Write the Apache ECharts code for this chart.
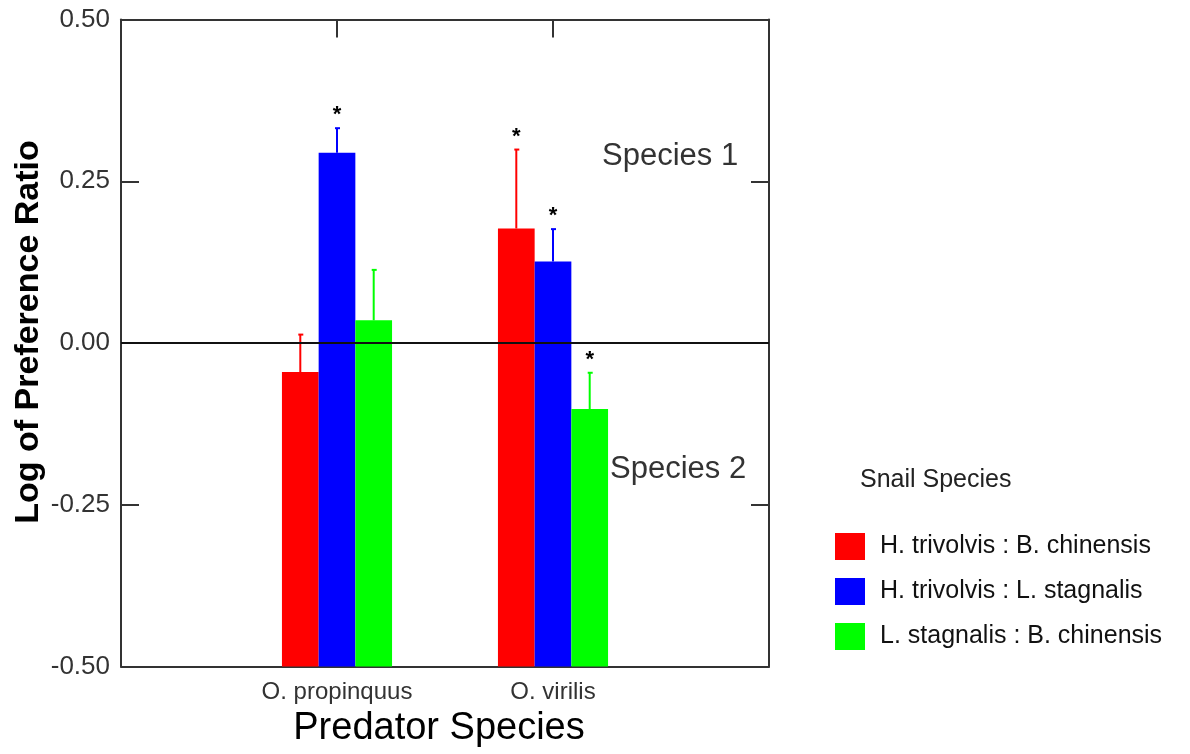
<!DOCTYPE html>
<html>
<head>
<meta charset="utf-8">
<script src="https://cdn.jsdelivr.net/npm/echarts@6/dist/echarts.min.js"></script>
<style>
html,body{margin:0;padding:0;background:#fff;}
#chart{width:1190px;height:754px;}
</style>
</head>
<body>
<div id="chart"></div>
<script>
// ---- data ----
var categories = ['', 'O. propinquus', 'O. virilis', ''];
var seriesNames = ['H. trivolvis : B. chinensis', 'H. trivolvis : L. stagnalis', 'L. stagnalis : B. chinensis'];
var seriesColors = ['#ff0000', '#0000ff', '#00ff00'];
// values for O. propinquus, O. virilis
var valuesHB = [-0.045, 0.177];
var valuesHL = [0.294, 0.126];
var valuesLB = [0.035, -0.102];
// upper end of the error bar
var errTopHB = [0.013, 0.299];
var errTopHL = [0.332, 0.176];
var errTopLB = [0.113, -0.046];
// significance marks (1 = asterisk)
var starsHB = [0, 1];
var starsHL = [1, 1];
var starsLB = [0, 1];
var yTicks = [-0.5, -0.25, 0, 0.25, 0.5];

var yMin = yTicks[0], yMax = yTicks[yTicks.length - 1];
var FONT = '"Liberation Sans", Arial, sans-serif';
var BAR_W = 36.7;

function buildData(vals, errs, stars) {
  return vals.map(function (v, i) { return [i + 1, v, errs[i], stars[i]]; });
}
var allData = [
  buildData(valuesHB, errTopHB, starsHB),
  buildData(valuesHL, errTopHL, starsHL),
  buildData(valuesLB, errTopLB, starsLB)
];

function makeRender(sIdx) {
  var offset = (sIdx - 1) * BAR_W;
  var color = seriesColors[sIdx];
  return function (params, api) {
    var ci = api.value(0), v = api.value(1), e = api.value(2), star = api.value(3);
    var top = api.coord([ci, v]);
    var base = api.coord([ci, yMin]);
    var eTop = api.coord([ci, e]);
    var cx = top[0] + offset;
    var children = [
      { type: 'rect', shape: { x: cx - BAR_W / 2, y: top[1], width: BAR_W, height: base[1] - top[1] },
        style: { fill: color } },
      { type: 'line', shape: { x1: cx, y1: top[1], x2: cx, y2: eTop[1] },
        style: { stroke: color, lineWidth: 2 } },
      { type: 'line', shape: { x1: cx - 2, y1: eTop[1], x2: cx + 3, y2: eTop[1] },
        style: { stroke: color, lineWidth: 2 } }
    ];
    if (star) {
      children.push({ type: 'text', x: cx, y: eTop[1] - 13,
        style: { text: '*', fill: '#000', font: 'bold 22px ' + FONT, align: 'center', verticalAlign: 'middle' } });
    }
    return { type: 'group', children: children };
  };
}

var series = seriesNames.map(function (name, s) {
  return {
    name: name,
    type: 'custom',
    xAxisIndex: 0, yAxisIndex: 0,
    itemStyle: { color: seriesColors[s] },
    renderItem: makeRender(s),
    data: allData[s],
    z: 2
  };
});
series.push({
  name: 'zero',
  type: 'line',
  data: [],
  z: 10,
  markLine: {
    silent: true,
    symbol: ['none', 'none'],
    label: { show: false },
    lineStyle: { color: '#111', width: 2, type: 'solid' },
    data: [{ yAxis: 0 }]
  }
});

var axisLineStyle = { color: '#333', width: 2 };
var option = {
  animation: false,
  grid: { left: 121, right: 421, top: 19.5, bottom: 87.5, containLabel: false, outerBoundsMode: 'none' },
  xAxis: [
    { type: 'category', data: categories, boundaryGap: false, position: 'bottom',
      axisLine: { onZero: false, lineStyle: axisLineStyle }, axisTick: { show: false },
      axisLabel: { color: '#333', fontFamily: FONT, fontSize: 24, margin: 14, interval: 0 },
      splitLine: { show: false } },
    { type: 'category', data: categories, boundaryGap: false, position: 'top',
      axisLine: { onZero: false, lineStyle: axisLineStyle },
      axisTick: { show: true, inside: true, length: 18, lineStyle: { color: '#333', width: 2 },
        interval: function (idx) { return idx === 1 || idx === 2; } },
      axisLabel: { show: false }, splitLine: { show: false } }
  ],
  yAxis: [
    { type: 'value', min: yMin, max: yMax, interval: 0.25, position: 'left',
      axisLine: { show: true, onZero: false, lineStyle: axisLineStyle },
      axisTick: { show: true, inside: true, length: 18, lineStyle: { color: '#333', width: 2 } },
      axisLabel: { color: '#333', fontFamily: FONT, fontSize: 26, margin: 11,
        formatter: function (v) { return v.toFixed(2); } },
      splitLine: { show: false } },
    { type: 'value', min: yMin, max: yMax, interval: 0.25, position: 'right',
      axisLine: { show: true, onZero: false, lineStyle: axisLineStyle },
      axisTick: { show: true, inside: true, length: 18, lineStyle: { color: '#333', width: 2 } },
      axisLabel: { show: false }, splitLine: { show: false } }
  ],
  legend: {
    data: seriesNames,
    orient: 'vertical',
    left: 835, top: 533, padding: 0,
    itemWidth: 30, itemHeight: 27, itemGap: 18,
    icon: 'rect',
    selectedMode: false,
    textStyle: { color: '#111', fontFamily: FONT, fontSize: 25, padding: [0, 0, 0, 10] }
  },
  graphic: [
    { type: 'text', x: 29, y: 332, rotation: Math.PI / 2,
      style: { text: 'Log of Preference Ratio', fill: '#000', font: 'bold 34px ' + FONT, align: 'center', verticalAlign: 'middle' } },
    { type: 'text', x: 439, y: 729,
      style: { text: 'Predator Species', fill: '#000', font: '38px ' + FONT, align: 'center', verticalAlign: 'middle' } },
    { type: 'text', x: 602, y: 156,
      style: { text: 'Species 1', fill: '#333', font: '31px ' + FONT, align: 'left', verticalAlign: 'middle' } },
    { type: 'text', x: 610, y: 469,
      style: { text: 'Species 2', fill: '#333', font: '31px ' + FONT, align: 'left', verticalAlign: 'middle' } },
    { type: 'text', x: 860, y: 480,
      style: { text: 'Snail Species', fill: '#222', font: '25px ' + FONT, align: 'left', verticalAlign: 'middle' } }
  ],
  series: series
};

var chart = echarts.init(document.getElementById('chart'), null, { renderer: 'canvas' });
chart.setOption(option);
</script>
</body>
</html>
